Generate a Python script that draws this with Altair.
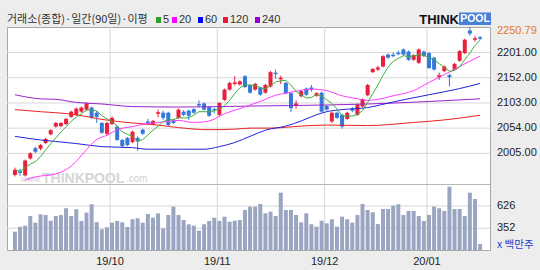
import altair as alt
import pandas as pd

# ---------------- data ----------------
opens = [1963,1970,1962,1995,2015,2014,2025,2042,2057,2058,
         2062,2076,2080,2086,2090,2094,2084,2064,2043,2062,
         2057,2031,2035,2027,2035,2051,2067,2062,2082,2084,
         2084,2069,2074,2086,2088,2091,2101,2102,2095,2091,
         2080,2109,2129,2140,2139,2155,2138,2129,2133,2123,
         2135,2162,2149,2142,2122,2099,2116,2131,2133,2117,
         2123,2097,2067,2084,2080,2072,2092,2080,2096,2118,
         2163,2168,2174,2197,2197,2201,2207,2203,2187,2181,
         2203,2200,2191,2153,2165,2157,2168,2185,2200,2244,
         2226,2231]
closes = [1973,1967,1991,2005,2008,2021,2033,2050,2064,2064,
          2072,2086,2092,2094,2102,2074,2076,2045,2064,2074,
          2031,2019,2021,2047,2028,2043,2064,2068,2085,2074,
          2060,2064,2090,2080,2078,2084,2098,2090,2078,2089,
          2103,2129,2142,2143,2145,2134,2123,2140,2119,2138,
          2163,2159,2152,2122,2093,2102,2126,2119,2129,2122,
          2086,2090,2084,2074,2057,2084,2088,2100,2110,2138,
          2169,2172,2194,2191,2194,2198,2197,2187,2196,2207,
          2194,2171,2168,2157,2174,2153,2179,2204,2226,2238,
          2229,2228]
highs = [1977,1975,1993,2007,2018,2023,2035,2052,2066,2066,
         2074,2088,2094,2096,2104,2096,2087,2066,2066,2077,
         2059,2033,2037,2049,2038,2053,2072,2070,2090,2088,
         2086,2072,2092,2089,2090,2093,2108,2104,2097,2094,
         2105,2131,2144,2155,2147,2157,2140,2142,2135,2140,
         2165,2168,2156,2144,2124,2108,2128,2133,2138,2124,
         2125,2099,2086,2086,2082,2086,2095,2102,2112,2140,
         2171,2175,2196,2199,2201,2205,2209,2205,2198,2209,
         2205,2202,2193,2162,2176,2160,2181,2206,2228,2250.79,
         2233,2233]
lows = [1960,1961,1960,1993,2005,2011,2023,2040,2055,2056,
        2060,2074,2078,2084,2088,2072,2064,2043,2040,2060,
        2029,2016,2019,2025,2010,2041,2060,2060,2075,2070,
        2058,2062,2072,2077,2070,2082,2094,2088,2076,2083,
        2078,2107,2127,2137,2137,2132,2121,2127,2117,2121,
        2133,2150,2140,2120,2085,2092,2114,2117,2125,2115,
        2084,2088,2064,2072,2053,2070,2085,2078,2094,2116,
        2161,2165,2172,2189,2192,2196,2195,2185,2185,2179,
        2192,2169,2166,2148,2163,2135,2166,2183,2198,2234,
        2222,2225]
volumes = [310,372,384,503,421,524,515,445,503,515,
           598,503,586,442,544,647,426,340,364,421,
           442,426,368,463,475,421,528,482,536,352,
           515,618,515,454,401,384,323,401,442,482,
           442,495,433,445,454,577,618,618,651,536,
           556,503,790,577,577,515,426,536,401,372,
           445,413,463,372,495,463,421,515,651,577,
           549,405,589,589,630,647,515,565,565,503,
           442,515,618,598,565,863,589,589,503,790,
           712,159]

ma20_idx = [2, 4, 8, 11, 14, 16, 18, 20, 23, 26, 29, 32, 35, 38, 41, 44, 46, 48,
            51, 53, 55, 58, 61, 64, 67, 69, 71, 74, 78, 81, 84, 87, 91]
ma20_val = [1953, 1959, 1965, 1980, 2012, 2032, 2040, 2051, 2057, 2063, 2066, 2069,
            2065, 2068, 2082, 2092, 2099, 2106, 2118, 2122, 2126, 2130, 2127, 2117,
            2111, 2108, 2110, 2117, 2127, 2143, 2158, 2174, 2194]
ma60_idx = [0, 5, 8, 12, 17, 23, 26, 32, 37, 40, 43, 46, 49, 53, 56, 59, 61, 64, 69,
            74, 81, 87, 91]
ma60_val = [2038, 2031, 2028, 2024, 2018, 2016, 2013, 2013, 2013, 2018, 2026, 2038,
            2050, 2058, 2068, 2080, 2086, 2090, 2094, 2105, 2119, 2131, 2141]
ma120_idx = [0, 5, 8, 12, 17, 23, 28, 32, 38, 43, 46, 50, 56, 61, 69, 78, 84, 91]
ma120_val = [2090, 2086, 2084, 2080, 2071, 2064, 2060, 2055, 2051, 2052, 2054, 2054,
             2058, 2060, 2059, 2065, 2070, 2079]
ma240_idx = [0, 5, 8, 12, 17, 23, 32, 46, 61, 69, 91]
ma240_val = [2119, 2111, 2110, 2104, 2101, 2096, 2095, 2097, 2099, 2101, 2111]

month_start = [19, 40, 61, 81]
month_labels = ["19/10", "19/11", "19/12", "20/01"]
price_ticks = [2005, 2054, 2103, 2152, 2201]
price_top = 2250.79
vol_ticks = [352, 626]

title_text = "거래소(종합)·일간(90일)·이평"
legend_labels = ["5", "20", "60", "120", "240"]
unit_text = "x 백만주"

# ---------------- styling ----------------
UP = "#E8203A"
DOWN = "#3478DB"
VOLC = "#9AA5C1"
GRID = "#D6D6D6"
MA_COLORS = ["#3DB03D", "#FF3CFF", "#2222DD", "#EE2020", "#9A22CC"]
LEG_COLORS = ["#2E9E2E", "#FF00FF", "#0000FF", "#F0143C", "#9400D3"]
FONT = "Liberation Sans"
KFONT = "Noto Sans CJK KR"
LBL = "#222222"

W, H = 483, 223
PRICE_PX = 157

n = len(closes)
df = pd.DataFrame({"i": list(range(n)), "o": opens, "c": closes, "h": highs,
                   "l": lows, "v": volumes})

xscale = alt.Scale(domain=[-0.575, 91.96], nice=False, zero=False)
pscale = alt.Scale(domain=[1945.3, price_top], range=[PRICE_PX, 0], nice=False, zero=False)
vscale = alt.Scale(domain=[85, 884], range=[H, PRICE_PX + 1], nice=False, zero=False, clamp=True)

color_cond = alt.condition("datum.c >= datum.o", alt.value(UP), alt.value(DOWN))
base = alt.Chart(df)


def X(field="i:Q"):
    return alt.X(field, scale=xscale, axis=None)


def YP(field):
    return alt.Y(field, scale=pscale, axis=None)


def YV(field):
    return alt.Y(field, scale=vscale, axis=None)


def one(text):
    return alt.Chart(pd.DataFrame({"t": [text]}))


# ---- grid and tick labels (drawn from the tick arrays through the scales) ----
mdf = pd.DataFrame({"m": [m - 0.4 for m in month_start], "lab": month_labels})
pdf = pd.DataFrame({"p": price_ticks, "lab": [f"{p:.2f}" for p in price_ticks]})
vdf = pd.DataFrame({"vv": vol_ticks, "lab": [f"{v:d}" for v in vol_ticks]})

xgrid = alt.Chart(mdf).mark_rule(color=GRID, strokeWidth=1).encode(
    x=X("m:Q"), y=alt.value(0), y2=alt.value(H))
xlab = alt.Chart(mdf).mark_text(font=FONT, fontSize=11, color=LBL, baseline="middle").encode(
    x=X("m:Q"), y=alt.value(H + 12), text="lab:N")
pgrid = alt.Chart(pdf).mark_rule(color=GRID, strokeWidth=1).encode(
    y=YP("p:Q"), x=alt.value(0), x2=alt.value(W))
plab = alt.Chart(pdf).mark_text(font=FONT, fontSize=11, color=LBL, align="left",
                                baseline="middle").encode(
    y=YP("p:Q"), x=alt.value(W + 7), text="lab:N")
top_label = one(f"{price_top:.2f}").mark_text(
    align="left", baseline="middle", font=FONT, fontSize=11, color="#E07A1F", dy=4).encode(
    x=alt.value(W + 7), y=alt.Y(datum=price_top, scale=pscale, axis=None), text="t:N")
vgrid = alt.Chart(vdf).mark_rule(color=GRID, strokeWidth=1).encode(
    y=YV("vv:Q"), x=alt.value(0), x2=alt.value(W))
vlab = alt.Chart(vdf).mark_text(font=FONT, fontSize=11, color=LBL, align="left",
                                baseline="middle").encode(
    y=YV("vv:Q"), x=alt.value(W + 7), text="lab:N")

# ---- candles ----
wick = base.mark_rule(strokeWidth=1).encode(
    x=X(), y=YP("l:Q"), y2="h:Q", color=color_cond)
body = base.mark_bar(size=4).encode(
    x=X(), y=YP("o:Q"), y2="c:Q", color=color_cond)

# watermark
wm = [
    one("www.").mark_text(align="right", baseline="alphabetic", font=FONT, fontSize=9,
                          color="#D0D0D0").encode(x=alt.value(35), y=alt.value(155), text="t:N"),
    one("THINKPOOL").mark_text(align="left", baseline="alphabetic", font=FONT, fontSize=14,
                               fontWeight="bold", color="#D6D6D6").encode(
        x=alt.value(35), y=alt.value(156), text="t:N"),
    one(".com").mark_text(align="left", baseline="alphabetic", font=FONT, fontSize=10,
                          color="#D0D0D0").encode(x=alt.value(119), y=alt.value(155), text="t:N"),
]


def ma_line(idx, vals, color):
    d = pd.DataFrame({"i": idx, "m": vals})
    return alt.Chart(d).mark_line(color=color, strokeWidth=1, interpolate="monotone").encode(
        x=X(), y=YP("m:Q"))


ma5 = base.transform_window(ma5="mean(c)", frame=[-4, 0], sort=[alt.SortField("i")]).mark_line(
    color=MA_COLORS[0], strokeWidth=1).encode(x=X(), y=YP("ma5:Q"))

price = alt.layer(
    pgrid, plab, top_label, *wm, wick, body,
    ma_line(ma240_idx, ma240_val, MA_COLORS[4]),
    ma_line(ma120_idx, ma120_val, MA_COLORS[3]),
    ma_line(ma60_idx, ma60_val, MA_COLORS[2]),
    ma_line(ma20_idx, ma20_val, MA_COLORS[1]),
    ma5,
)

vbars = base.mark_bar(size=4, color=VOLC).encode(x=X(), y=YV("v:Q"))
sep = one("").mark_rule(color="#B8B8B8", strokeWidth=1).encode(
    x=alt.value(0), x2=alt.value(W), y=alt.value(PRICE_PX + 0.5))
vol = alt.layer(vgrid, vlab, vbars, sep)

# decorations: title, legend, logo, unit
decor = [
    one(title_text).mark_text(align="left", baseline="middle", font=KFONT, fontSize=11,
                              color="#333333").encode(x=alt.value(0), y=alt.value(-7), text="t:N"),
    one(unit_text).mark_text(align="left", baseline="middle", font=KFONT, fontSize=10.5,
                             color="#1F3FCC").encode(x=alt.value(490), y=alt.value(218), text="t:N"),
]
sq_x = [149, 165, 191, 216, 248]
for sx, lab, col in zip(sq_x, legend_labels, LEG_COLORS):
    decor.append(one(lab).mark_rect(color=col).encode(
        x=alt.value(sx), x2=alt.value(sx + 5), y=alt.value(-10), y2=alt.value(-4)))
    decor.append(one(lab).mark_text(align="left", baseline="middle", font=FONT, fontSize=11,
                                    color="#333333").encode(
        x=alt.value(sx + 7), y=alt.value(-7), text="t:N"))

decor += [
    one("THINK").mark_text(align="right", baseline="alphabetic", font=FONT, fontSize=13,
                           fontWeight="bold", color="#111111").encode(
        x=alt.value(452), y=alt.value(-3), text="t:N"),
    one("").mark_rect(color="#4A7FD8").encode(
        x=alt.value(452), x2=alt.value(484), y=alt.value(-14.5), y2=alt.value(-2)),
    one("POOL").mark_text(align="center", baseline="middle", font=FONT, fontSize=10.5,
                          fontWeight="bold", color="#FFFFFF").encode(
        x=alt.value(468), y=alt.value(-8), text="t:N"),
]

chart = alt.layer(xgrid, xlab, price, vol, *decor).resolve_scale(y="independent").properties(
    width=W, height=H,
    autosize=alt.AutoSizeParams(type="none"),
    padding={"left": 7, "top": 27, "right": 50, "bottom": 20},
    background="#EDEDED",
).configure_view(fill="#FFFFFF", stroke="#A8A8A8", strokeWidth=1)

chart.save("out.html", embed_options={"renderer": "svg", "actions": False})
